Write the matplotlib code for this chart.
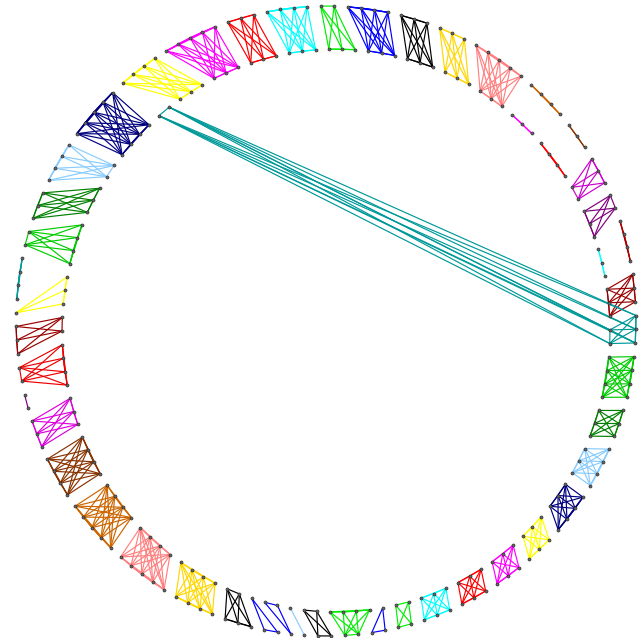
import numpy as np
import matplotlib.pyplot as plt
from matplotlib.collections import LineCollection
from itertools import combinations

# group colours (group id = index)
group_colors = [
    '#00ee00', '#0000ff', '#000000', '#ffd700', '#ff8080',   # 0-4
    '#cc6600', '#ff00ff', '#883300', '#ff0000', '#cc00cc',   # 5-9
    '#800080', '#aa0000', '#00ffff', '#990000', '#009999',   # 10-14
    '#00cc00', '#008000', '#88ccff', '#000080', '#ffff00',   # 15-19
    '#ff00ff', '#ff0000', '#00ffff', '#00ee00', '#0000ff',   # 20-24
    '#00ee00', '#000000', '#88ccff', '#0000ff', '#0000ff',   # 25-29
    '#000000', '#ffd700', '#ff8080', '#cc6600', '#883300',   # 30-34
    '#dd00dd', '#800080', '#ee0000', '#990000', '#ffff00',   # 35-39
    '#009999', '#00cc00', '#008000', '#88ccff', '#000080',   # 40-44
    '#ffff00', '#ff00ff', '#ff0000', '#00ffff',              # 45-48
]

# outer ring, clockwise from the top: group id and number of nodes
outer_groups = [0, 1, 2, 3, 4, 5, 7, 9, 10, 11, 13, 14, 15, 16, 17, 18, 19, 20, 21, 22,
                23, 24, 25, 26, 27, 28, 29, 30, 31, 32, 33, 34, 35, 36, 37, 38, 39, 40,
                41, 42, 43, 44, 45, 46, 47, 48]
outer_counts = [2, 4, 3, 3, 5, 4, 3, 3, 2, 4, 3, 3, 4, 3, 4, 4, 3, 3, 3, 3,
                2, 2, 2, 2, 1, 1, 2, 3, 4, 5, 5, 4, 3, 2, 2, 3, 1, 4,
                2, 3, 4, 5, 4, 5, 3, 4]

# inner ring, clockwise from the top (group 14 = teal, also has the 2 nodes far left)
inner_groups = [0, 1, 2, 3, 4, 6, 8, 9, 10, 12, 13, 14, 15, 16, 17, 18, 19, 20, 21, 22,
                23, 24, 25, 26, 27, 28, 29, 30, 31, 32, 33, 34, 35, 37, 38, 39,
                41, 42, 43, 44, 14, 45, 46, 47, 48]
inner_counts = [3, 3, 3, 3, 3, 3, 4, 2, 3, 3, 3, 2, 4, 3, 3, 3, 3, 3, 3, 3,
                2, 1, 4, 2, 1, 2, 1, 2, 4, 4, 4, 4, 3, 4, 2, 3,
                4, 3, 2, 4, 2, 3, 3, 3, 3]


def ring(groups, counts, cx, cy, rx, ry, start):
    n = sum(counts)
    t = np.deg2rad(start + np.arange(n) * 360.0 / n)
    xs = cx + rx * np.sin(t)
    ys = cy - ry * np.cos(t)
    ids = np.repeat(groups, counts)
    return xs, ys, ids


ox, oy, oid = ring(outer_groups, outer_counts, 326, 321, 310, 315, -1.0)
ix, iy, iid = ring(inner_groups, inner_counts, 336, 330.5, 274, 281.5, -1.5)

xs = np.concatenate([ox, ix])
ys = np.concatenate([oy, iy])
ids = np.concatenate([oid, iid])

fig = plt.figure(figsize=(6.4, 6.38), dpi=100)
ax = fig.add_axes([0, 0, 1, 1])

for g, col in enumerate(group_colors):
    idx = np.where(ids == g)[0]
    segs = [[(xs[a], ys[a]), (xs[b], ys[b])] for a, b in combinations(idx, 2)]
    if segs:
        ax.add_collection(LineCollection(segs, colors=col, linewidths=0.85, zorder=1))

ax.scatter(xs, ys, s=5, c='#666666', edgecolors='#222222', linewidths=0.4, zorder=2)

ax.set_xlim(0, 640)
ax.set_ylim(638, 0)
ax.axis('off')
plt.savefig('out.png', dpi=100)
